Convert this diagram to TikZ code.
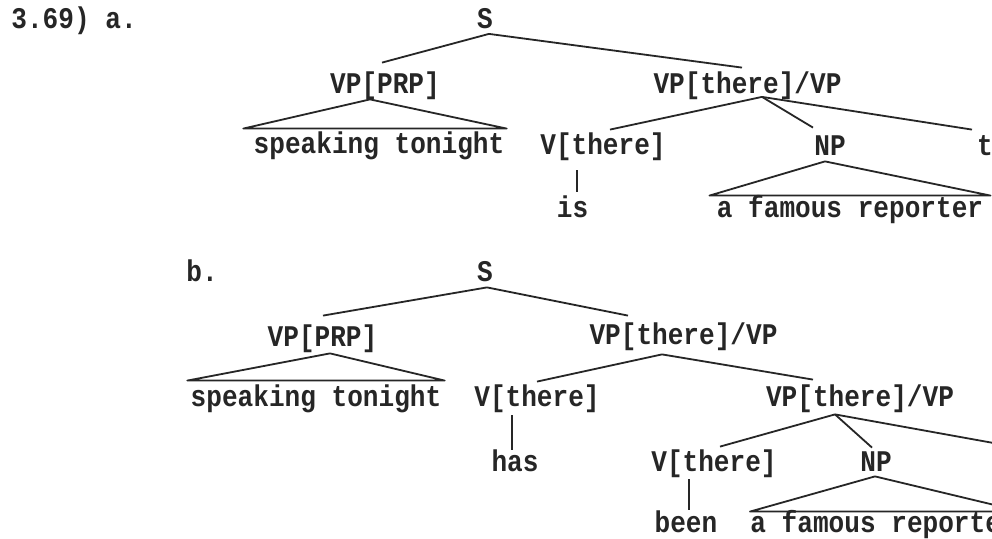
\documentclass[tikz,border=0pt]{standalone}
\usepackage{fontspec}
\usepackage{tikz}
\usetikzlibrary{calc}
\newfontfamily\treefont{Liberation Mono}[FakeStretch=0.87]
\definecolor{ink}{HTML}{262626}

\begin{document}
\begin{tikzpicture}[
  x=0.5pt, y=-0.5pt,
  lab/.style={font=\treefont\bfseries\fontsize{15}{17}\selectfont, text=ink,
              inner sep=0pt, text height=7.5pt, text depth=2.5pt, anchor=base},
  branch/.style={draw=ink, line width=0.9pt, line join=round}
]
  \useasboundingbox (0,0) rectangle (992,539);
  \clip (0,0) rectangle (992,539);
  \fill[white] (0,0) rectangle (992,539);

  % Tree a
  \node[lab, anchor=base west] (numA) at (11,28.5) {3.69) a.};
  \node[lab] (sA) at (485,28.5) {S};
  \node[lab] (vpprpA) at (385,94) {VP[PRP]};
  \node[lab] (vpthereA) at (747.5,93.5) {VP[there]/VP};
  \node[lab] (speakA) at (379,154) {speaking tonight};
  \node[lab] (vthereA) at (603,155) {V[there]};
  \node[lab] (npA) at (830,156) {NP};
  \node[lab] (tA) at (985,156) {t};
  \node[lab] (isA) at (572.5,218) {is};
  \node[lab] (reporterA) at (850,218) {a famous reporter};

  \draw[branch] ($(sA.south)+(4,0)$) -- ($(vpprpA.north)+(-3,-16)$);
  \draw[branch] ($(sA.south)+(4,0)$) -- ($(vpthereA.north)+(-5.5,-10.5)$);
  \draw[branch] ($(vpprpA.south)+(-15,0)$) -- ($(speakA.north west)+(-10,-10)$)
    -- ($(speakA.north east)+(2,-10)$) -- cycle;
  \draw[branch] ($(vpthereA.south)+(14.5,-2)$) -- ($(vthereA.north)+(7,-10)$);
  \draw[branch] ($(vpthereA.south)+(14.5,-2)$) -- ($(npA.north)+(-17,-13)$);
  \draw[branch] ($(vpthereA.south)+(14.5,-2)$) -- ($(tA.north)+(-13,-11)$);
  \draw[branch] ($(vthereA.south)+(-26,10)$) -- ($(isA.north)+(4.5,-11)$);
  \draw[branch] ($(npA.south)+(-5,0)$) -- ($(reporterA.north west)+(-7,-7)$)
    -- ($(reporterA.north east)+(7,-7)$) -- cycle;

  % Tree b
  \node[lab, anchor=base west] (labB) at (186,282) {b.};
  \node[lab] (sB) at (485,282) {S};
  \node[lab] (vpprpB) at (322.5,347) {VP[PRP]};
  \node[lab] (vpthereB) at (683.5,345) {VP[there]/VP};
  \node[lab] (speakB) at (316,407) {speaking tonight};
  \node[lab] (vthereB) at (537,407) {V[there]};
  \node[lab] (vpthereC) at (860,407) {VP[there]/VP};
  \node[lab] (hasB) at (515,472) {has};
  \node[lab] (vthereC) at (714,472) {V[there]};
  \node[lab] (npC) at (876,472) {NP};
  \node[lab] (beenC) at (686,533) {been};
  \node[lab, anchor=base west] (reporterC) at (750,533) {a famous reporter};
  \coordinate (tC) at (1060,455);

  \draw[branch] ($(sB.south)+(2,0)$) -- ($(vpprpB.north)+(0.5,-16)$);
  \draw[branch] ($(sB.south)+(2,0)$) -- ($(vpthereB.north)+(-55.5,-14)$);
  \draw[branch] ($(vpprpB.south)+(7.5,1)$) -- ($(speakB.north west)+(-3,-11)$)
    -- ($(speakB.north east)+(3,-11)$) -- cycle;
  \draw[branch] ($(vpthereB.south)+(-21.5,4)$) -- ($(vthereB.north)+(0,-10)$);
  \draw[branch] ($(vpthereB.south)+(-21.5,4)$) -- ($(vpthereC.north)+(-47,-12)$);
  \draw[branch] ($(vthereB.south)+(-25,3)$) -- ($(hasB.north)+(-3,-7)$);
  \draw[branch] ($(vpthereC.south)+(-25,2)$) -- ($(vthereC.north)+(6,-10)$);
  \draw[branch] ($(vpthereC.south)+(-25,2)$) -- ($(npC.north)+(-4,-9)$);
  \draw[branch] ($(vpthereC.south)+(-25,2)$) -- (tC);
  \draw[branch] ($(vthereC.south)+(-25,2)$) -- ($(beenC.north)+(3,-8)$);
  \draw[branch] ($(npC.south)+(-1,-1)$) -- ($(reporterC.north west)+(0,-6)$)
    -- ($(reporterC.north east)+(5,-6)$) -- cycle;
\end{tikzpicture}
\end{document}
